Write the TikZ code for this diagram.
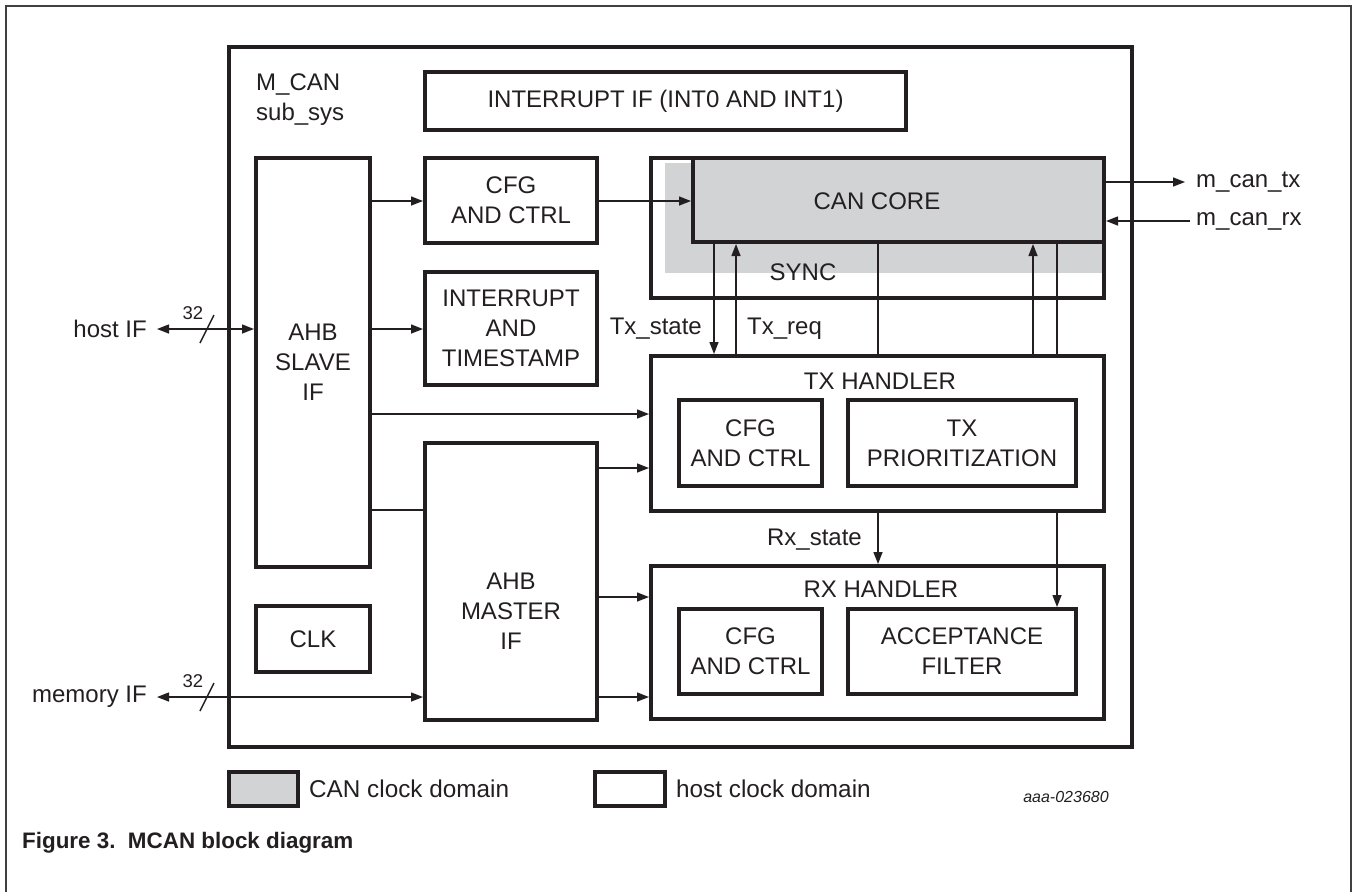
\documentclass[tikz,border=0pt]{standalone}
\usepackage{fontspec}
\setmainfont{Liberation Sans}
\usetikzlibrary{arrows.meta}
\definecolor{ink}{HTML}{231F20}
\definecolor{cangray}{HTML}{D1D3D4}
\definecolor{framegray}{HTML}{404040}
\tikzset{
  blk/.style={draw=ink, line width=4pt, inner sep=0pt, align=center, text=ink,
     font=\fontsize{24}{30}\selectfont},
  lbl/.style={inner sep=0pt, text=ink, font=\fontsize{24}{30}\selectfont},
  small/.style={inner sep=0pt, text=ink, font=\fontsize{18.5}{22}\selectfont},
  sig/.style={draw=ink, line width=1.4pt},
  arr/.style={sig, -{Triangle[length=12pt,width=9pt]}},
  darr/.style={sig, {Triangle[length=12pt,width=9pt]}-{Triangle[length=12pt,width=9pt]}}
}
\begin{document}
\begin{tikzpicture}[x=1pt,y=-1pt]
\useasboundingbox (0,0) rectangle (1354,892);
% page frame
\draw[framegray, line width=2.5pt] (6,892) -- (6,6) -- (1351,6) -- (1351,892);
% subsystem box
\node[blk, minimum width=903, minimum height=700] (mcan) at (680.5,397) {};
\node[lbl, anchor=west, align=left] (mcanlbl) at (256,100) {M\_CAN\\sub\_sys};
\node[blk, minimum width=481, minimum height=58] (intif) at (665.5,101) {INTERRUPT IF (INT0 AND INT1)};
% left column
\node[blk, minimum width=114, minimum height=409] (ahbs) at (313,362.5) {AHB\\SLAVE\\IF};
\node[blk, minimum width=114, minimum height=66] (clk) at (313,639) {CLK};
% middle column
\node[blk, minimum width=172, minimum height=85] (cfg) at (511,200.5) {CFG\\AND CTRL};
\node[blk, minimum width=172, minimum height=113] (intts) at (511,328.5) {INTERRUPT\\AND\\TIMESTAMP};
\node[blk, minimum width=172, minimum height=277] (ahbm) at (511,581.5) {};
\node[lbl, align=center] (ahbmlbl) at (511,611) {AHB\\MASTER\\IF};
% sync / can core
\node[blk, minimum width=453, minimum height=140] (sync) at (877.5,228) {};
\fill[cangray] (665,163) rectangle (1102,273);
\node[blk, fill=cangray, minimum width=411, minimum height=84] (core) at (898.5,200) {};
\node[lbl] (corelbl) at (877,201) {CAN CORE};
\node[lbl] (synclbl) at (803,272) {SYNC};
% tx handler
\node[blk, minimum width=453, minimum height=155] (txh) at (877.5,433.5) {};
\node[lbl] (txhlbl) at (880,381) {TX HANDLER};
\node[blk, minimum width=143, minimum height=86] (txcfg) at (750.5,443) {CFG\\AND CTRL};
\node[blk, minimum width=228, minimum height=86] (txprio) at (962,443) {TX\\PRIORITIZATION};
% rx handler
\node[blk, minimum width=453, minimum height=153] (rxh) at (877.5,642.5) {};
\node[lbl] (rxhlbl) at (881,589) {RX HANDLER};
\node[blk, minimum width=143, minimum height=85] (rxcfg) at (750.5,651.5) {CFG\\AND CTRL};
\node[blk, minimum width=228, minimum height=85] (accf) at (962,651.5) {ACCEPTANCE\\FILTER};
% external labels
\node[lbl, anchor=east] (host) at (147,329) {host IF};
\node[lbl, anchor=east] (mem) at (147,697) {memory IF};
\node[lbl, anchor=west] (tx) at (1196,182) {m\_can\_tx};
\node[lbl, anchor=west] (rx) at (1196,221) {m\_can\_rx};
\node[lbl, anchor=east] (txstate) at (702,329) {Tx\_state};
\node[lbl, anchor=west] (txreq) at (747,329) {Tx\_req};
\node[lbl, anchor=east] (rxstate) at (862,540) {Rx\_state};
% coordinates for free ends
\coordinate (txend) at (1185,182);
\coordinate (rxstart) at (1190,221);
% connectors
\draw[arr] (ahbs.east |- 0,201) -- (cfg.west |- 0,201);
\draw[arr] (ahbs.east |- 0,329) -- (intts.west |- 0,329);
\draw[arr] (ahbs.east |- 0,414) -- (txh.west |- 0,414);
\draw[sig] (ahbs.east |- 0,510) -- (ahbm.west |- 0,510);
\draw[arr] (cfg.east |- 0,201) -- (core.west |- 0,201);
\draw[arr] (ahbm.east |- 0,468) -- (txh.west |- 0,468);
\draw[arr] (ahbm.east |- 0,597) -- (rxh.west |- 0,597);
\draw[arr] (ahbm.east |- 0,697) -- (rxh.west |- 0,697);
\draw[arr] (core.south -| 714,0) -- (txh.north -| 714,0);
\draw[arr] (txh.north -| 736,0) -- (core.south -| 736,0);
\draw[sig] (core.south -| 878,0) -- (txh.north -| 878,0);
\draw[arr] (txh.north -| 1033,0) -- (core.south -| 1033,0);
\draw[sig] (core.south -| 1057,0) -- (txh.north -| 1057,0);
\draw[arr] (txh.south -| 1057,0) -- (accf.north -| 1057,0);
\draw[arr] (txh.south -| 878,0) -- (rxh.north -| 878,0);
\draw[arr] (core.east |- txend) -- (txend);
\draw[arr] (rxstart) -- (core.east |- rxstart);
\draw[darr] (host.east) ++(10,0) coordinate (h0) (h0) -- (ahbs.west |- h0);
\draw[darr] (mem.east) ++(10,0) coordinate (m0) (m0) -- (ahbm.west |- m0);
\draw[sig] (200,343) -- (214,315);
\draw[sig] (200,711) -- (214,683);
\node[small] (w1) at (193,313) {32};
\node[small] (w2) at (193,681) {32};
% legend
\node[draw=ink, line width=4pt, fill=cangray, minimum width=69, minimum height=34, inner sep=0pt] (lg1) at (263.5,789) {};
\node[lbl, anchor=west, font=\fontsize{24.3}{30}\selectfont] (lg1t) at (309,789) {CAN clock domain};
\node[draw=ink, line width=4pt, minimum width=70, minimum height=34, inner sep=0pt] (lg2) at (630,789) {};
\node[lbl, anchor=west, font=\fontsize{24.3}{30}\selectfont] (lg2t) at (676,789) {host clock domain};
\node[inner sep=0pt, text=ink, font=\fontsize{16}{19}\selectfont\itshape] (code) at (1066,797) {aaa-023680};
% caption
\node[inner sep=0pt, anchor=west, text=ink, font=\fontsize{22.4}{26}\selectfont\bfseries] (cap) at (22,843) {Figure 3.\ \ MCAN block diagram};
\end{tikzpicture}
\end{document}
